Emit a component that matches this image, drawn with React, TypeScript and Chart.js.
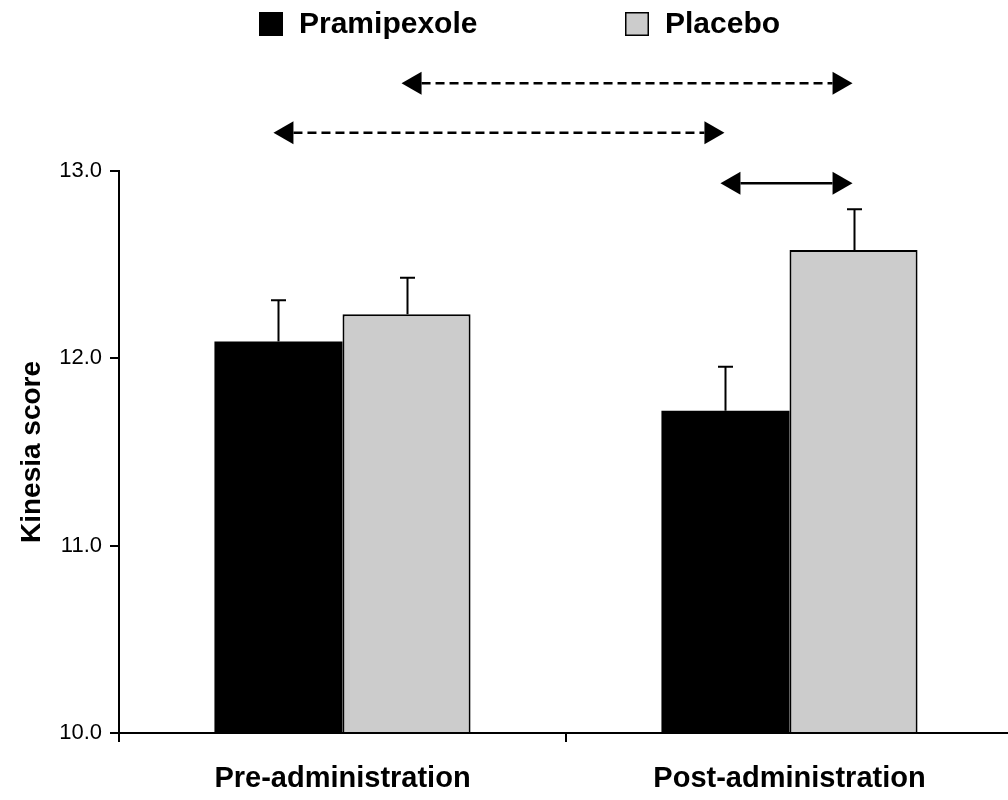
import React, { useEffect, useRef } from "react";
import { Chart, registerables } from "chart.js";

Chart.register(...registerables);

const categories = ["Pre-administration", "Post-administration"];
const seriesNames = ["Pramipexole", "Placebo"];
const pramipexole = [12.09, 11.72];
const placebo = [12.235, 12.578];
const pramipexoleErr = [0.22, 0.235];
const placeboErr = [0.195, 0.218];
const yTicks = [10, 11, 12, 13];
// comparison arrows: endpoints as [dataset, category index], level as y value
const comparisonFrom = [[1, 0], [0, 0], [0, 1]];
const comparisonTo = [[1, 1], [0, 1], [1, 1]];
const comparisonLevel = [13.468, 13.204, 12.934];
const comparisonDashed = [true, true, false];

const FONT = "'Liberation Sans', Arial, Helvetica, sans-serif";
const errorsByDataset = [pramipexoleErr, placeboErr];

const overlayPlugin = {
  id: "overlay",
  afterDatasetsDraw(chart: any) {
    const ctx = chart.ctx;
    const yScale = chart.scales.y;
    ctx.save();
    // error bars
    ctx.strokeStyle = "#000";
    ctx.lineWidth = 2;
    chart.data.datasets.forEach((ds: any, di: number) => {
      const meta = chart.getDatasetMeta(di);
      meta.data.forEach((bar: any, i: number) => {
        const v = ds.data[i];
        const e = errorsByDataset[di][i];
        const x = Math.round(bar.x) + 0.5;
        const yTop = yScale.getPixelForValue(v + e);
        const yBase = yScale.getPixelForValue(v);
        ctx.beginPath();
        ctx.moveTo(x, yBase);
        ctx.lineTo(x, yTop);
        ctx.moveTo(x - 7.5, yTop);
        ctx.lineTo(x + 7.5, yTop);
        ctx.stroke();
      });
    });
    // comparison arrows
    comparisonLevel.forEach((lvl, k) => {
      const [fd, fi] = comparisonFrom[k];
      const [td, ti] = comparisonTo[k];
      const x1 = chart.getDatasetMeta(fd).data[fi].x - 5;
      const x2 = chart.getDatasetMeta(td).data[ti].x - 1;
      const y = yScale.getPixelForValue(lvl);
      const head = 20;
      const half = 11.5;
      ctx.strokeStyle = "#000";
      ctx.lineWidth = 2.5;
      ctx.setLineDash(comparisonDashed[k] ? [9, 5] : []);
      ctx.beginPath();
      ctx.moveTo(x1 + head, y);
      ctx.lineTo(x2 - head, y);
      ctx.stroke();
      ctx.setLineDash([]);
      ctx.fillStyle = "#000";
      ctx.beginPath();
      ctx.moveTo(x1, y);
      ctx.lineTo(x1 + head, y - half);
      ctx.lineTo(x1 + head, y + half);
      ctx.closePath();
      ctx.fill();
      ctx.beginPath();
      ctx.moveTo(x2, y);
      ctx.lineTo(x2 - head, y - half);
      ctx.lineTo(x2 - head, y + half);
      ctx.closePath();
      ctx.fill();
    });
    // legend
    const legendX = [259, 625];
    const textGap = 40;
    const box = 24;
    chart.data.datasets.forEach((ds: any, di: number) => {
      const x = legendX[di];
      ctx.fillStyle = ds.backgroundColor;
      ctx.fillRect(x, 12, box, box);
      ctx.strokeStyle = "#000";
      ctx.lineWidth = 1.5;
      ctx.strokeRect(x + 0.75, 12.75, box - 1.5, box - 1.5);
      ctx.fillStyle = "#000";
      ctx.font = `bold 30px ${FONT}`;
      ctx.textBaseline = "middle";
      ctx.textAlign = "left";
      ctx.fillText(ds.label, x + textGap, 25);
    });
    ctx.restore();
  },
};

export default function App() {
  const ref = useRef<HTMLCanvasElement | null>(null);
  useEffect(() => {
    if (!ref.current) return;
    const chart = new Chart(ref.current, {
      type: "bar",
      data: {
        labels: categories,
        datasets: [
          {
            label: seriesNames[0],
            data: pramipexole,
            backgroundColor: "#000000",
            borderColor: "#000000",
            borderWidth: 0,
          },
          {
            label: seriesNames[1],
            data: placebo,
            backgroundColor: "#cccccc",
            borderColor: "#000000",
            borderWidth: 2,
          },
        ],
      },
      options: {
        responsive: false,
        animation: false,
        events: [],
        layout: { padding: { top: 171, right: 7, left: 0, bottom: 0 } },
        datasets: {
          bar: { categoryPercentage: 0.573, barPercentage: 1.0, base: 10 } as any,
        },
        plugins: {
          legend: { display: false },
          tooltip: { enabled: false },
        },
        scales: {
          x: {
            type: "category",
            offset: true,
            grid: {
              offset: true,
              drawOnChartArea: false,
              drawTicks: true,
              tickLength: 9,
              color: "#000",
              lineWidth: 2,
            },
            border: { display: true, color: "#000", width: 2 },
            ticks: {
              color: "#000",
              font: { family: FONT, size: 29, weight: "bold" },
              padding: 20,
              maxRotation: 0,
            },
            afterFit(scale: any) {
              scale.height = 67;
            },
          },
          y: {
            min: 10,
            max: 13,
            afterBuildTicks(scale: any) {
              scale.ticks = yTicks.map((v) => ({ value: v }));
            },
            grid: {
              drawOnChartArea: false,
              drawTicks: true,
              tickLength: 9,
              color: "#000",
              lineWidth: 2,
            },
            border: { display: true, color: "#000", width: 2 },
            ticks: {
              color: "#000",
              font: { family: FONT, size: 22 },
              padding: 8,
              callback: (v: any) => Number(v).toFixed(1),
            },
            title: {
              display: true,
              text: "Kinesia score",
              color: "#000",
              font: { family: FONT, size: 28, weight: "bold" },
              padding: { top: 15, bottom: 0 },
            },
            afterFit(scale: any) {
              scale.width = 119;
            },
          },
        },
      },
      plugins: [overlayPlugin],
    });
    return () => chart.destroy();
  }, []);
  return (
    <div
      style={{
        position: "absolute",
        left: 0,
        top: 0,
        width: 1008,
        height: 800,
        overflow: "hidden",
        background: "#fff",
      }}
    >
      <canvas ref={ref} width={1020} height={800} style={{ width: 1020, height: 800, display: "block" }} />
    </div>
  );
}
